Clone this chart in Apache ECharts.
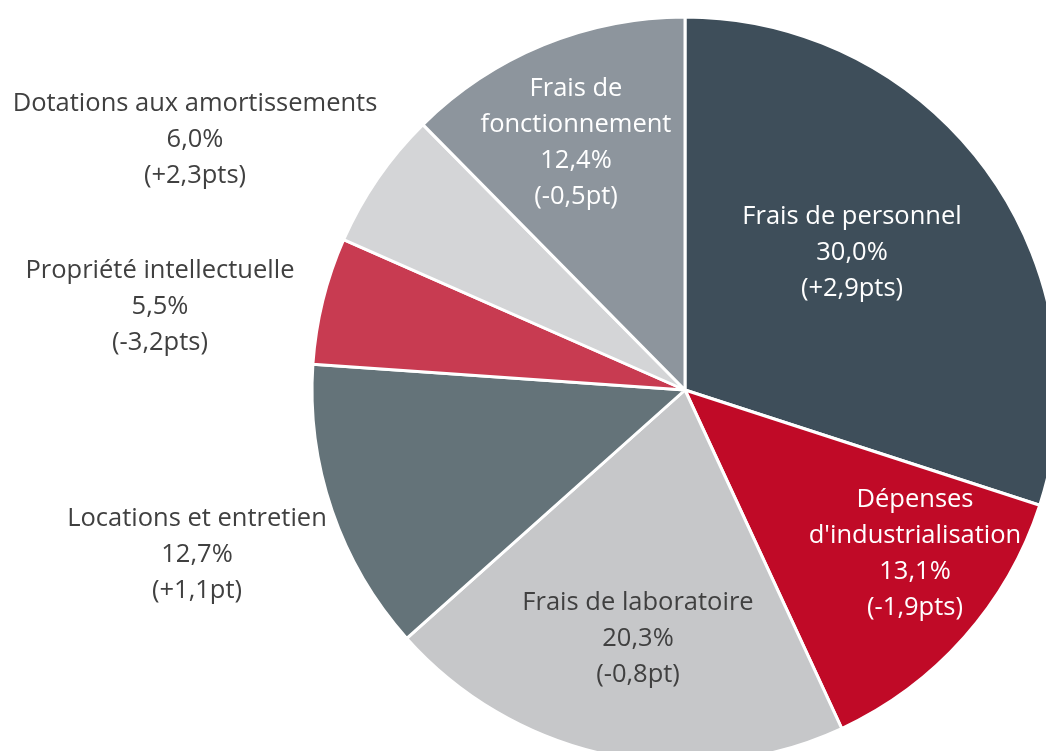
<!DOCTYPE html>
<html>
<head>
<meta charset="utf-8">
<script src="https://cdn.jsdelivr.net/npm/echarts@6/dist/echarts.min.js"></script>
<style>
html,body{margin:0;padding:0;background:#fff;}
#c{width:1046px;height:751px;}
</style>
</head>
<body>
<div id="c"></div>
<script>
var categories = ["Frais de personnel", "Dépenses\nd'industrialisation", "Frais de laboratoire", "Locations et entretien", "Propriété intellectuelle", "Dotations aux amortissements", "Frais de\nfonctionnement"];
var values = [30.0, 13.1, 20.3, 12.7, 5.5, 6.0, 12.4];
var changes = ["+2,9pts", "-1,9pts", "-0,8pt", "+1,1pt", "-3,2pts", "+2,3pts", "-0,5pt"];

var colors = ["#3e4e5a", "#c00a27", "#c6c7c9", "#647379", "#c83b51", "#d4d5d7", "#8d959d"];
var textColors = ["#ffffff", "#ffffff", "#404040", "#404040", "#404040", "#404040", "#ffffff"];
var labelXY = [[852, 253], [915, 554], [638, 639], [197, 555], [160, 307], [195, 140], [576, 143]];

var chart = echarts.init(document.getElementById('c'), null, {renderer: 'canvas'});
chart.setOption({
  animation: false,
  series: [{
    type: 'pie',
    center: [685, 390],
    radius: [0, 373],
    startAngle: 90,
    clockwise: true,
    avoidLabelOverlap: false,
    itemStyle: {borderColor: '#ffffff', borderWidth: 3},
    emphasis: {disabled: true},
    labelLine: {show: false},
    label: {
      show: true,
      position: 'inside',
      fontFamily: 'Open Sans',
      fontSize: 25.5,
      lineHeight: 36,
      align: 'center',
      formatter: function (p) {
        return p.name + '\n' + values[p.dataIndex].toFixed(1).replace('.', ',') + '%\n(' + changes[p.dataIndex] + ')';
      }
    },
    labelLayout: function (p) {
      var xy = labelXY[p.dataIndex];
      return {x: xy[0], y: xy[1], align: 'center', verticalAlign: 'middle'};
    },
    data: categories.map(function (c, i) {
      return {name: c, value: values[i], itemStyle: {color: colors[i]}, label: {color: textColors[i]}};
    })
  }]
});
</script>
</body>
</html>
